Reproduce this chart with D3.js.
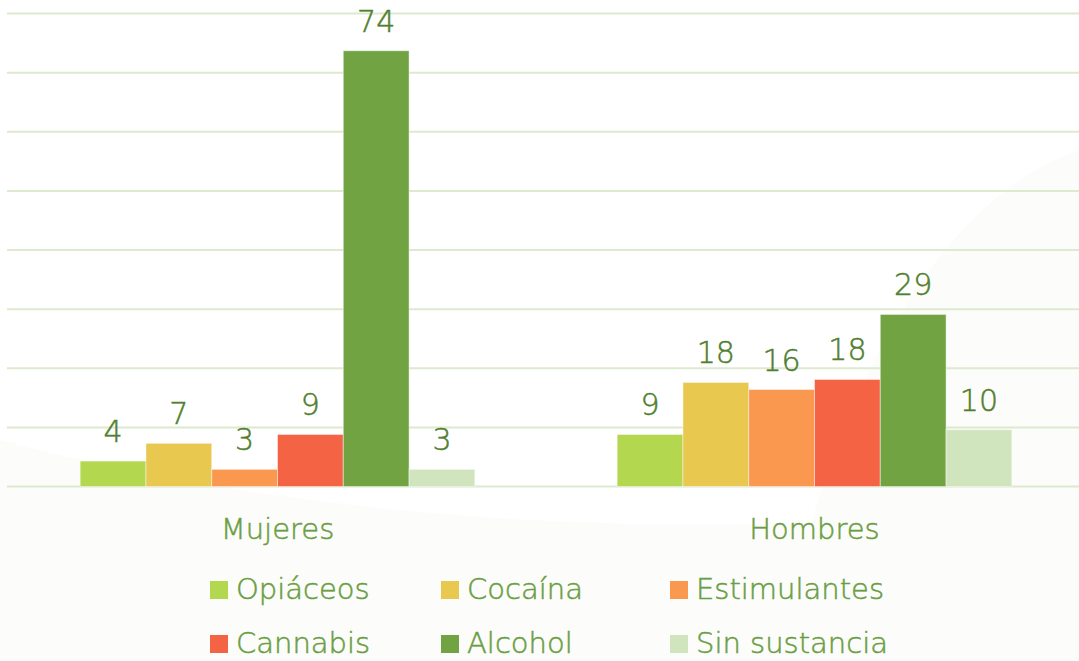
<!DOCTYPE html>
<html>
<head>
<meta charset="utf-8">
<script src="https://cdn.jsdelivr.net/npm/d3@7"></script>
<style>
  html, body { margin: 0; padding: 0; background: #ffffff; }
  svg { display: block; }
</style>
</head>
<body>
<div id="chart"></div>
<script>
var groups = ["Mujeres", "Hombres"];
var series = ["Opiáceos", "Cocaína", "Estimulantes", "Cannabis", "Alcohol", "Sin sustancia"];
var mujeres = [4.3, 7.3, 2.9, 8.8, 73.7, 2.9];
var hombres = [8.8, 17.6, 16.4, 18.1, 29.1, 9.6];
var colors = ["#b3d850", "#e8c84f", "#fb984f", "#f46444", "#71a343", "#d0e4bd"];
var yTicks = [0, 10, 20, 30, 40, 50, 60, 70, 80];

var width = 1079, height = 661;
var margin = {top: 13, right: 0, bottom: 175, left: 7};
var font = "'DejaVu Sans', sans-serif";

const svg = d3.select("#chart")
    .append("svg")
    .attr("width", width)
    .attr("height", height);

// faint background shapes
svg.append("path")
    .attr("d", "M0,440 C300,520 700,550 1079,500 L1079,661 L0,661 Z")
    .attr("fill", "#fcfcfa");
svg.append("path")
    .attr("d", "M780,661 C820,420 930,200 1079,150 L1079,661 Z")
    .attr("fill", "#fcfcfa");

const y = d3.scaleLinear()
    .domain([0, 80])
    .range([height - margin.bottom + 0.5, margin.top + 0.5]);

const x0 = d3.scaleBand()
    .domain(groups)
    .range([9, 1083])
    .paddingInner(0.265)
    .paddingOuter(0.1325);

const x1 = d3.scaleBand()
    .domain(series)
    .range([0, x0.bandwidth()]);

// gridlines
svg.append("g")
    .selectAll("line")
    .data(yTicks)
    .join("line")
    .attr("x1", margin.left)
    .attr("x2", width)
    .attr("y1", d => y(d))
    .attr("y2", d => y(d))
    .attr("stroke", "#dcead0")
    .attr("stroke-width", 2);

var rows = [
    {group: "Mujeres", values: mujeres},
    {group: "Hombres", values: hombres}
];

rows.forEach(row => {
    const g = svg.append("g")
        .attr("transform", "translate(" + x0(row.group) + ",0)");

    g.selectAll("rect")
        .data(row.values)
        .join("rect")
        .attr("x", (d, i) => x1(series[i]))
        .attr("y", d => y(d))
        .attr("width", x1.bandwidth())
        .attr("height", d => y(0) - y(d))
        .attr("fill", (d, i) => colors[i])
        .attr("stroke", "rgba(255,255,255,0.45)")
        .attr("stroke-width", 1);

    g.selectAll("text")
        .data(row.values)
        .join("text")
        .text(d => d3.format(".0f")(d))
        .attr("x", (d, i) => x1(series[i]) + x1.bandwidth() / 2)
        .attr("y", d => y(d) - 19)
        .attr("text-anchor", "middle")
        .attr("font-family", font)
        .attr("font-weight", 300)
        .attr("font-size", 30)
        .attr("fill", "#517f30")
        .attr("stroke", "#517f30")
        .attr("stroke-width", 0.5);
});

// category labels
svg.append("g")
    .selectAll("text")
    .data(groups)
    .join("text")
    .text(d => d)
    .attr("x", d => x0(d) + x0.bandwidth() / 2)
    .attr("y", 539)
    .attr("text-anchor", "middle")
    .attr("font-family", font)
    .attr("font-weight", 300)
    .attr("font-size", 29)
    .attr("fill", "#6a9e44")
    .attr("stroke", "#6a9e44")
    .attr("stroke-width", 0.5);

// legend
var legendX = [210, 441, 670];
var legendY = [581, 635];
series.forEach((s, i) => {
    const lx = legendX[i % 3], ly = legendY[Math.floor(i / 3)];
    svg.append("rect")
        .attr("x", lx)
        .attr("y", ly)
        .attr("width", 18)
        .attr("height", 18)
        .attr("fill", colors[i]);
    svg.append("text")
        .text(s)
        .attr("x", lx + 26)
        .attr("y", ly + 18)
        .attr("font-family", font)
        .attr("font-weight", 300)
        .attr("font-size", 29)
        .attr("fill", "#6a9e44")
        .attr("stroke", "#6a9e44")
        .attr("stroke-width", 0.5);
});
</script>
</body>
</html>
